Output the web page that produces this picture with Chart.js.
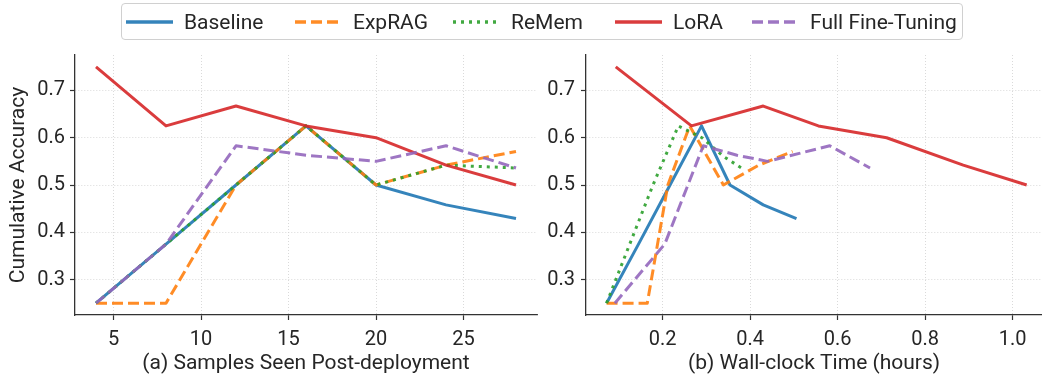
<!DOCTYPE html>
<html>
<head>
<meta charset="utf-8">
<script src="https://cdn.jsdelivr.net/npm/chart.js@4.4.1/dist/chart.umd.min.js"></script>
<style>
  html, body { margin: 0; padding: 0; background: #fff; }
  body { width: 1042px; height: 381px; position: relative; overflow: hidden; font-family: Roboto, "DejaVu Sans", sans-serif; }
  .panel { position: absolute; top: 0; }
  #legend {
    position: absolute; left: 121px; top: 3px; width: 842px; height: 37px;
    border: 1px solid #d0d0d0; border-radius: 4px; background: #fff;
    box-sizing: border-box; font-size: 21px; color: #262626;
  }
  .item { position: absolute; top: 0; height: 35px; display: flex; align-items: center; white-space: nowrap; }
  .item svg { margin-right: 11px; }
</style>
</head>
<body>
<div class="panel" style="left:0"><canvas id="left" width="545" height="381"></canvas></div>
<div class="panel" style="left:540px"><canvas id="right" width="502" height="381"></canvas></div>
<div id="legend"></div>
<script>
// valeurs
const methods = ["Baseline", "ExpRAG", "ReMem", "LoRA", "Full Fine-Tuning"]

// (a) échantillons vus
const samples = [4, 8, 12, 16, 20, 24, 28]
const baselineAcc = [0.25, 0.375, 0.5, 0.625, 0.5, 0.458, 0.429]
const expragAcc = [0.25, 0.25, 0.5, 0.625, 0.5, 0.542, 0.571]
const rememAcc = [0.25, 0.375, 0.5, 0.625, 0.5, 0.542, 0.536]
const loraAcc = [0.75, 0.625, 0.667, 0.625, 0.6, 0.542, 0.5]
const fullFtAcc = [0.25, 0.375, 0.583, 0.563, 0.55, 0.583, 0.536]

// (b) temps (heures)
const baselineHours = [0.072, 0.145, 0.217, 0.289, 0.354, 0.43, 0.506]
const expragHours = [0.072, 0.165, 0.212, 0.262, 0.339, 0.42, 0.497]
const rememHours = [0.072, 0.125, 0.178, 0.236, 0.29, 0.34, 0.38]
const rememTimeAcc = [0.25, 0.375, 0.5, 0.625, 0.6, 0.56, 0.536]
const loraHours = [0.093, 0.266, 0.43, 0.556, 0.712, 0.887, 1.032]
const fullFtHours = [0.091, 0.205, 0.293, 0.37, 0.44, 0.582, 0.674]

const yTicks = [0.3, 0.4, 0.5, 0.6, 0.7]
const sampleTicks = [5, 10, 15, 20, 25]
const hourTicks = [0.2, 0.4, 0.6, 0.8, 1.0]

const colors = ["rgba(31,119,180,0.9)", "rgba(255,127,14,0.9)", "rgba(44,160,44,0.9)", "rgba(214,39,40,0.9)", "rgba(148,103,189,0.9)"]
const dashes = [[], [11, 5], [3, 5], [], [11, 5]]

const txt = "#262626"
const axisCol = "#333"

const pts = (xs, ys) => xs.map((x, i) => ({ x, y: ys[i] }))

const series = (sets) => sets.map((d, i) => ({
  label: methods[i],
  data: d,
  borderColor: colors[i],
  borderDash: dashes[i],
  borderWidth: 3,
  borderCapStyle: "butt",
  borderJoinStyle: "round",
  pointRadius: 0,
  tension: 0,
  fill: false,
  order: sets.length - i
}))

const fixTicks = (vals) => (scale) => { scale.ticks = vals.map((v) => ({ value: v })) }

const gridOpts = { color: "#d0d0d0", lineWidth: 0.8, tickColor: axisCol, tickLength: 5, tickWidth: 1.2, tickBorderDash: [] }
const borderOpts = { display: true, color: axisCol, width: 1.3, dash: [1, 2] }

const makeChart = (el, datasets, x, opts) => new Chart(el, {
  type: "line",
  data: { datasets },
  options: {
    responsive: false,
    animation: false,
    layout: { padding: { top: 55, right: opts.padRight, left: 0, bottom: 0 } },
    plugins: { legend: { display: false }, tooltip: { enabled: false } },
    scales: {
      x: {
        type: "linear",
        min: x.min,
        max: x.max,
        afterBuildTicks: fixTicks(x.ticks),
        afterFit: (s) => { s.height = 66 },
        border: borderOpts,
        grid: gridOpts,
        ticks: { color: txt, font: { size: 20, family: "Roboto" }, padding: 8, maxRotation: 0, callback: x.fmt },
        title: { display: true, text: x.title, color: txt, font: { size: 21, family: "Roboto" }, padding: { top: 0, bottom: 5 } }
      },
      y: {
        type: "linear",
        min: 0.225,
        max: 0.775,
        afterBuildTicks: fixTicks(yTicks),
        afterFit: (s) => { s.width = opts.yWidth },
        border: borderOpts,
        grid: gridOpts,
        ticks: { color: txt, font: { size: 20, family: "Roboto" }, padding: opts.yPad, callback: (v) => v.toFixed(1) },
        title: { display: !!opts.yTitle, text: opts.yTitle || "", color: txt, font: { size: 21, family: "Roboto" }, padding: { top: 6, bottom: 0 } }
      }
    }
  }
})

makeChart(document.getElementById("left"), series([
  pts(samples, baselineAcc),
  pts(samples, expragAcc),
  pts(samples, rememAcc),
  pts(samples, loraAcc),
  pts(samples, fullFtAcc)
]), { min: 2.8, max: 29.2, ticks: sampleTicks, title: "(a) Samples Seen Post-deployment", fmt: (v) => String(v) },
{ padRight: 8, yWidth: 75, yPad: 5, yTitle: "Cumulative Accuracy" })

makeChart(document.getElementById("right"), series([
  pts(baselineHours, baselineAcc),
  pts(expragHours, expragAcc),
  pts(rememHours, rememTimeAcc),
  pts(loraHours, loraAcc),
  pts(fullFtHours, fullFtAcc)
]), { min: 0.025, max: 1.067, ticks: hourTicks, title: "(b) Wall-clock Time (hours)", fmt: (v) => v.toFixed(1) },
{ padRight: 0, yWidth: 46, yPad: 6 })

// légende commune
const legend = document.getElementById("legend")
const itemLeft = [4, 173, 331, 493, 630]
methods.forEach((m, i) => {
  const item = document.createElement("div")
  item.className = "item"
  item.style.left = itemLeft[i] + "px"
  const da = dashes[i].length ? `stroke-dasharray="${dashes[i].join(" ")}"` : ""
  item.innerHTML = `<svg width="47" height="10"><line x1="0" y1="5" x2="47" y2="5" stroke="${colors[i]}" stroke-width="3.5" ${da}/></svg><span>${m}</span>`
  legend.appendChild(item)
})
</script>
</body>
</html>
